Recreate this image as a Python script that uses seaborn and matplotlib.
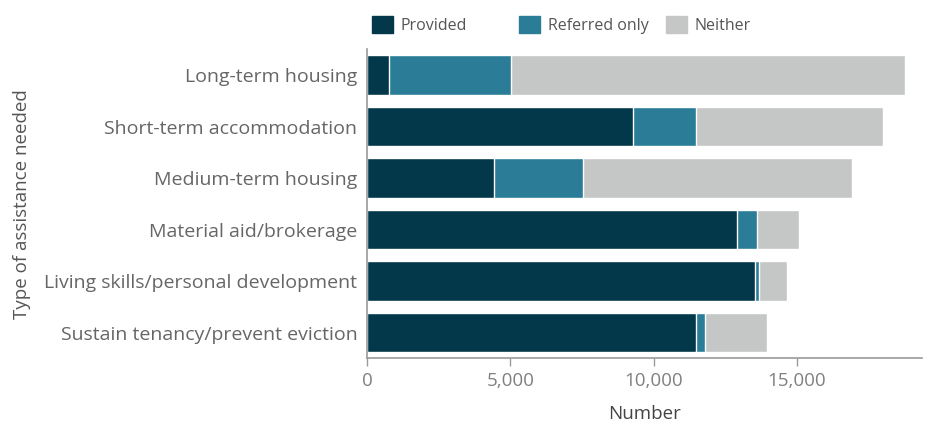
import pandas as pd
import matplotlib.pyplot as plt
import matplotlib.patches as mpatches
import seaborn as sns

# Values
categories = [
    "Long-term housing",
    "Short-term accommodation",
    "Medium-term housing",
    "Material aid/brokerage",
    "Living skills/personal development",
    "Sustain tenancy/prevent eviction",
]
provided = [780, 9290, 4430, 12910, 13540, 11490]
referred_only = [4260, 2180, 3110, 680, 120, 300]
neither = [13740, 6540, 9370, 1480, 990, 2170]

colors = {"Provided": "#023849", "Referred only": "#2A7C97", "Neither": "#C5C6C6"}

df = pd.DataFrame({
    "category": categories,
    "Provided": provided,
    "Referred only": referred_only,
    "Neither": neither,
})
# cumulative ends for stacking
df["end_referred"] = df["Provided"] + df["Referred only"]
df["end_neither"] = df["end_referred"] + df["Neither"]

sns.set_style("white")
plt.rcParams["font.family"] = ["Open Sans", "DejaVu Sans"]

fig = plt.figure(figsize=(9.26, 4.25), dpi=100)
ax = fig.add_axes([0.3963, 0.157, 0.5994, 0.727])

sns.barplot(data=df, y="category", x="end_neither", color=colors["Neither"],
            orient="h", width=0.77, saturation=1, ax=ax)
sns.barplot(data=df, y="category", x="end_referred", color=colors["Referred only"],
            orient="h", width=0.77, saturation=1, ax=ax)
sns.barplot(data=df, y="category", x="Provided", color=colors["Provided"],
            orient="h", width=0.77, saturation=1, ax=ax)

ax.set_xlim(0, 19360)
ax.set_ylim(5.5, -0.5)
ax.set_xticks([0, 5000, 10000, 15000])
ax.set_xticklabels(["0", "5,000", "10,000", "15,000"])

for s in ["top", "right"]:
    ax.spines[s].set_visible(False)
for s in ["left", "bottom"]:
    ax.spines[s].set_color("#9a9a9a")
    ax.spines[s].set_linewidth(1.2)

ax.tick_params(axis="x", length=6, width=1, color="#9a9a9a", colors="#808080",
               labelsize=13.5, pad=4, direction="out", bottom=True)
ax.tick_params(axis="y", length=0, colors="#666666", labelsize=14, pad=7)

ax.set_xlabel("Number", fontsize=13.5, color="#444444", labelpad=11)
ax.set_ylabel("Type of assistance needed", fontsize=13.5, color="#555555")
ax.yaxis.set_label_coords(-0.605, 0.5)

# legend at top, one item per fixed-width slot
legend_x = [0.4017, 0.5605, 0.719]
for x, name in zip(legend_x, ["Provided", "Referred only", "Neither"]):
    handle = mpatches.Patch(color=colors[name], label=name)
    fig.legend(handles=[handle], loc="center left", bbox_to_anchor=(x, 0.941),
               frameon=False, fontsize=11.5, handlelength=1.3, handleheight=1.3,
               handletextpad=0.5, borderaxespad=0, borderpad=0, labelcolor="#555555")

fig.savefig("out.png", dpi=100)
